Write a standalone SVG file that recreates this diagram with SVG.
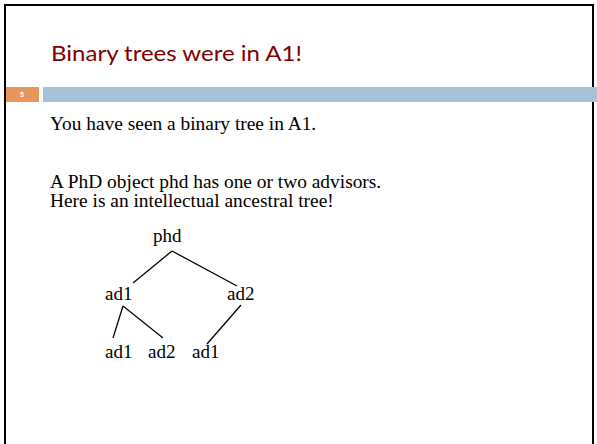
<svg xmlns="http://www.w3.org/2000/svg" width="597" height="444" viewBox="0 0 597 444">
<style>
.body{font-family:"Liberation Serif","Times New Roman",serif;font-size:19.4px;fill:#000}
.node{font-family:"Liberation Serif","Times New Roman",serif;font-size:19px;fill:#000}
.edge{stroke:#000;stroke-width:1.3;fill:none}
</style>
<rect width="597" height="444" fill="#fff"/>
<path d="M5,450 V5 H593 V450" fill="none" stroke="#000" stroke-width="2"/>
<text x="51" y="61" font-family="Lato,'DejaVu Sans',sans-serif" font-size="22" fill="#7F0000" textLength="251" lengthAdjust="spacingAndGlyphs">Binary trees were in A1!</text>
<rect x="6" y="87" width="33" height="15" fill="#E8965A"/>
<text x="20" y="97" font-family="'Liberation Sans',sans-serif" font-size="7" font-weight="bold" fill="#fff">5</text>
<rect x="43" y="87" width="554" height="15" fill="#A5C2DA"/>
<text class="body" x="50" y="130">You have seen a binary tree in A1.</text>
<text class="body" x="50" y="188">A PhD object phd has one or two advisors.</text>
<text class="body" x="50" y="207">Here is an intellectual ancestral tree!</text>
<g id="phd"><text class="node" x="153" y="242">phd</text></g>
<g id="ad1-top"><text class="node" x="105" y="300">ad1</text></g>
<g id="ad2-top"><text class="node" x="227" y="300">ad2</text></g>
<g id="ad1-ll"><text class="node" x="105" y="358">ad1</text></g>
<g id="ad2-lr"><text class="node" x="148" y="358">ad2</text></g>
<g id="ad1-rl"><text class="node" x="192" y="358">ad1</text></g>
<g id="connectors">
<line class="edge" x1="172" y1="251" x2="133" y2="283"/>
<line class="edge" x1="172" y1="251" x2="237" y2="286"/>
<line class="edge" x1="123" y1="306" x2="113" y2="338"/>
<line class="edge" x1="123" y1="306" x2="163" y2="338"/>
<line class="edge" x1="241" y1="305" x2="207" y2="344"/>
</g>
</svg>
